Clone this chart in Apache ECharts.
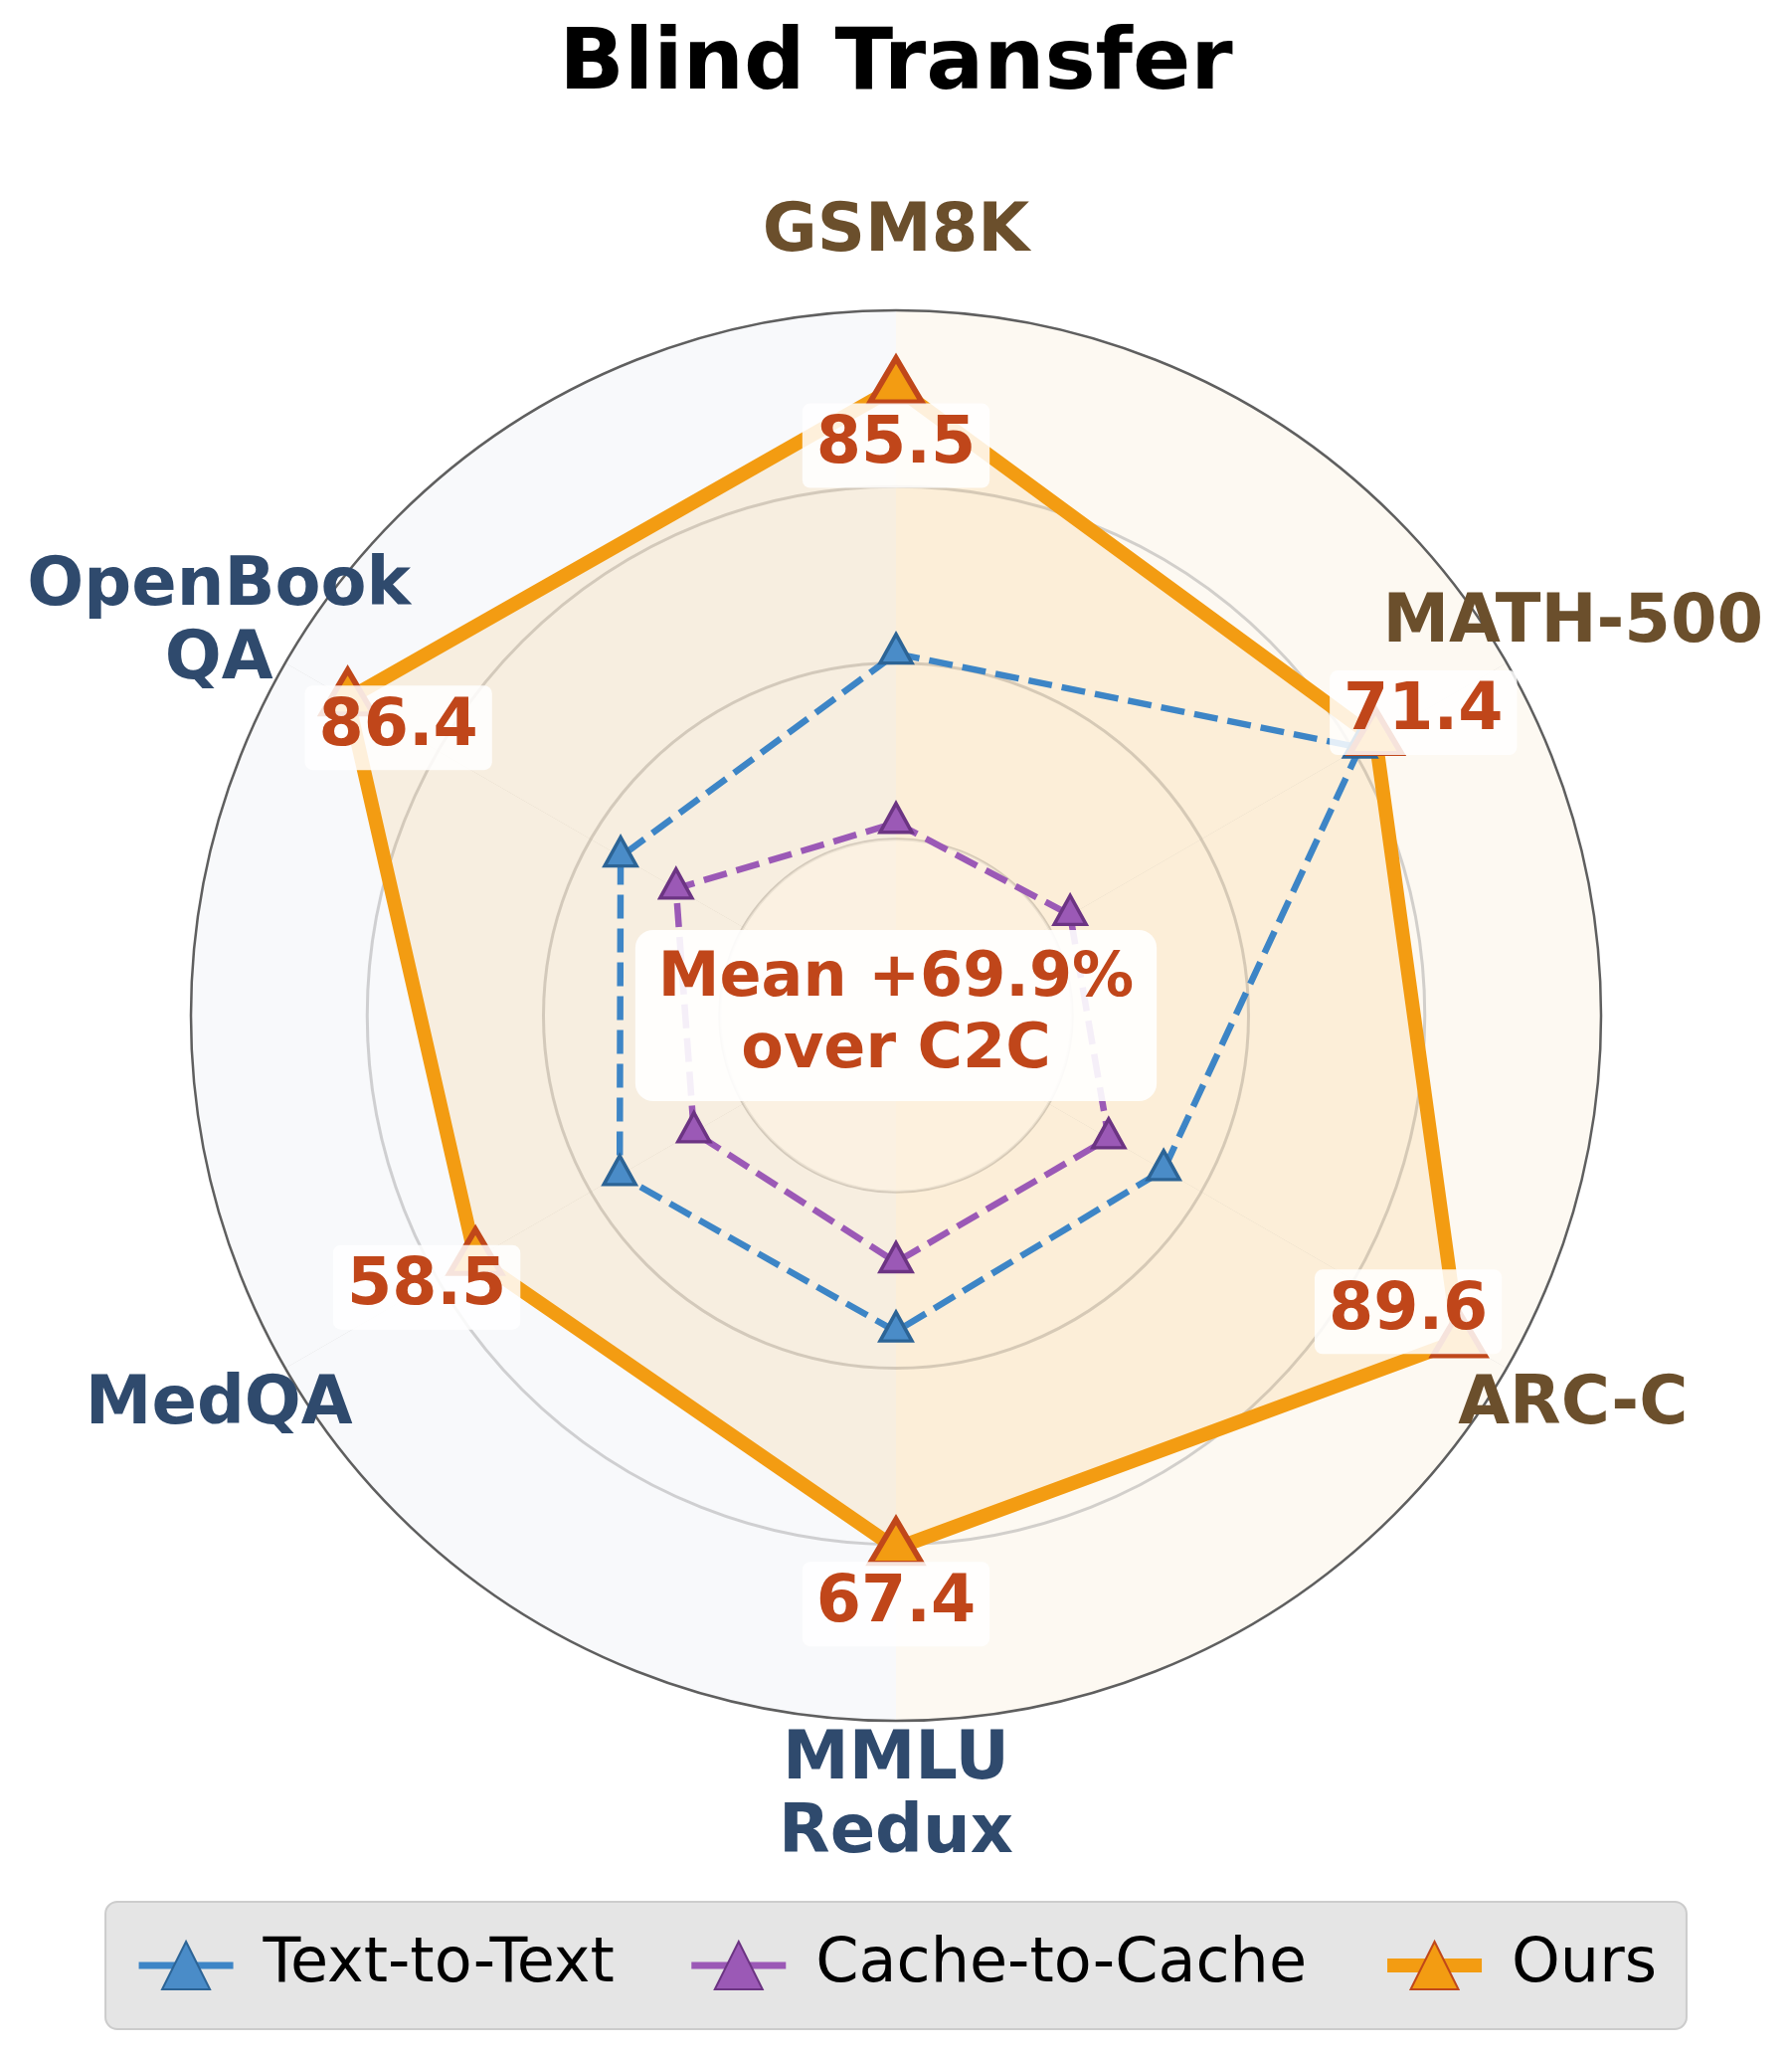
<!DOCTYPE html>
<html>
<head>
<meta charset="utf-8">
<title>Blind Transfer</title>
<script src="https://cdn.jsdelivr.net/npm/echarts@6/dist/echarts.min.js"></script>
<style>
  html, body { margin: 0; padding: 0; background: #ffffff; }
  #chart { width: 1802px; height: 2064px; }
</style>
</head>
<body>
<div id="chart"></div>
<script>
// benchmarks, clockwise from the top
const benchmarks = ['GSM8K', 'MATH-500', 'ARC-C', 'MMLU\nRedux', 'MedQA', 'OpenBook\nQA'];
const textToText = [35.1, 68.0, 25.1, 26.4, 27.0, 26.8];
const cacheToCache = [3.1, 4.7, 13.1, 13.3, 10.8, 14.7];
const ours = [85.5, 71.4, 89.6, 67.4, 58.5, 86.4];
const meanNote = 'Mean +69.9%\nover C2C';

// layout only: where the value boxes sit next to each "Ours" vertex (px)
const labelNudge = [[0, 66], [48, -19], [-51, -22], [0, 63], [-49, 36], [51, 36]];
const nameRing = 114.5; // radius (axis units) of the benchmark names

const FONT = 'DejaVu Sans';
const BROWN = '#6b4f2c';
const NAVY = '#2f4a6d';
const RED = '#c0461a';
const GRID = 'rgba(150,150,150,0.42)';

const chart = echarts.init(document.getElementById('chart'));

const step = 360 / benchmarks.length;
// [radius, angle] pairs, first vertex repeated at 360 to close the shape
const loop = vals => vals.map((v, i) => [v, i * step]).concat([[vals[0], 360]]);
const closeItems = (vals, extra) => loop(vals).map((pt, i) =>
  i < vals.length ? Object.assign({ value: pt }, extra ? extra(i) : {}) : { value: pt, symbol: 'none', label: { show: false } });

const option = {
  animation: false,
  backgroundColor: '#ffffff',
  title: [
    {
      text: 'Blind Transfer',
      left: 'center',
      top: 24,
      padding: 0,
      textStyle: { fontFamily: FONT, fontSize: 86, fontWeight: 'bold', color: '#000000' }
    },
    {
      text: meanNote,
      left: 'center',
      top: 935,
      padding: [14, 23],
      backgroundColor: 'rgba(255,255,255,0.9)',
      borderRadius: 18,
      textStyle: { fontFamily: FONT, fontSize: 62, fontWeight: 'bold', color: RED, lineHeight: 72 }
    }
  ],
  legend: {
    data: [
      { name: 'Text-to-Text', lineStyle: { type: 'solid', width: 7 } },
      { name: 'Cache-to-Cache', lineStyle: { type: 'solid', width: 7 } },
      { name: 'Ours', lineStyle: { type: 'solid', width: 14 } }
    ],
    top: 1912,
    left: 'center',
    padding: [33, 30],
    itemGap: 74,
    itemWidth: 95,
    itemHeight: 60,
    backgroundColor: '#e5e5e5',
    borderColor: '#cccccc',
    borderWidth: 2,
    borderRadius: 12,
    textStyle: { fontFamily: FONT, fontSize: 62, color: '#000000', padding: [0, 0, 0, 25] }
  },
  polar: { center: [901, 1021], radius: 709 },
  angleAxis: {
    type: 'value',
    min: 0,
    max: 360,
    interval: 60,
    startAngle: 90,
    clockwise: true,
    z: 0,
    axisLine: { show: true, lineStyle: { color: '#5f5f5f', width: 2.5 } },
    axisTick: { show: false },
    axisLabel: { show: false },
    splitLine: { show: true, lineStyle: { color: GRID, width: 3 } },
    splitArea: {
      show: true,
      areaStyle: { color: ['#fdf9f2', '#fdf9f2', '#fdf9f2', '#f8f9fb', '#f8f9fb', '#f8f9fb'] }
    }
  },
  radiusAxis: {
    type: 'value',
    min: -100 / 3,
    max: 100,
    interval: 100 / 3,
    z: 1,
    axisLine: { show: false },
    axisTick: { show: false },
    axisLabel: { show: false },
    splitLine: {
      show: true,
      lineStyle: { color: ['rgba(0,0,0,0)', GRID, GRID, GRID, 'rgba(0,0,0,0)'], width: 3 }
    },
    splitArea: {
      show: true,
      areaStyle: { color: ['rgba(255,255,255,0.55)', 'rgba(0,0,0,0)', 'rgba(0,0,0,0)', 'rgba(0,0,0,0)'] }
    }
  },
  series: [
    {
      name: 'Text-to-Text',
      type: 'line',
      coordinateSystem: 'polar',
      data: closeItems(textToText),
      symbol: 'triangle',
      symbolSize: [32, 29],
      symbolOffset: [0, -5],
      lineStyle: { color: '#3d85c6', width: 6.5, type: [24, 10] },
      itemStyle: { color: '#4a8cc8', borderColor: '#2c6496', borderWidth: 3.5 },
      emphasis: { disabled: true }
    },
    {
      name: 'Cache-to-Cache',
      type: 'line',
      coordinateSystem: 'polar',
      data: closeItems(cacheToCache),
      symbol: 'triangle',
      symbolSize: [32, 29],
      symbolOffset: [0, -5],
      lineStyle: { color: '#9b59b6', width: 6.5, type: [24, 10] },
      itemStyle: { color: '#9b59b6', borderColor: '#6c3483', borderWidth: 3.5 },
      emphasis: { disabled: true }
    },
    {
      name: 'Ours',
      type: 'line',
      coordinateSystem: 'polar',
      data: closeItems(ours, i => ({ label: { show: true, offset: labelNudge[i] } })),
      symbol: 'triangle',
      symbolSize: [52, 44],
      symbolOffset: [0, -7],
      lineStyle: { color: '#f39c12', width: 14, join: 'round' },
      areaStyle: { color: 'rgba(243,156,18,0.16)', origin: 'start' },
      itemStyle: { color: '#f39c12', borderColor: '#c0471a', borderWidth: 5.5 },
      label: {
        show: false,
        position: 'inside',
        formatter: p => p.value[0].toFixed(1),
        fontFamily: FONT,
        fontSize: 65,
        fontWeight: 'bold',
        color: RED,
        backgroundColor: 'rgba(255,255,255,0.85)',
        borderRadius: 8,
        padding: [10, 14]
      },
      emphasis: { disabled: true }
    },
    {
      // benchmark names, placed on a ring just outside the chart
      type: 'scatter',
      coordinateSystem: 'polar',
      clip: false,
      silent: true,
      symbolSize: 1,
      itemStyle: { color: 'rgba(0,0,0,0)', opacity: 1 },
      data: benchmarks.map((b, i) => ({
        value: [nameRing, i * step],
        label: { color: i < 3 ? BROWN : NAVY }
      })),
      label: {
        show: true,
        position: 'inside',
        formatter: p => benchmarks[p.dataIndex],
        fontFamily: FONT,
        fontSize: 67,
        fontWeight: 'bold',
        lineHeight: 74,
        align: 'center'
      },
      emphasis: { disabled: true }
    }
  ]
};

chart.setOption(option);
</script>
</body>
</html>
